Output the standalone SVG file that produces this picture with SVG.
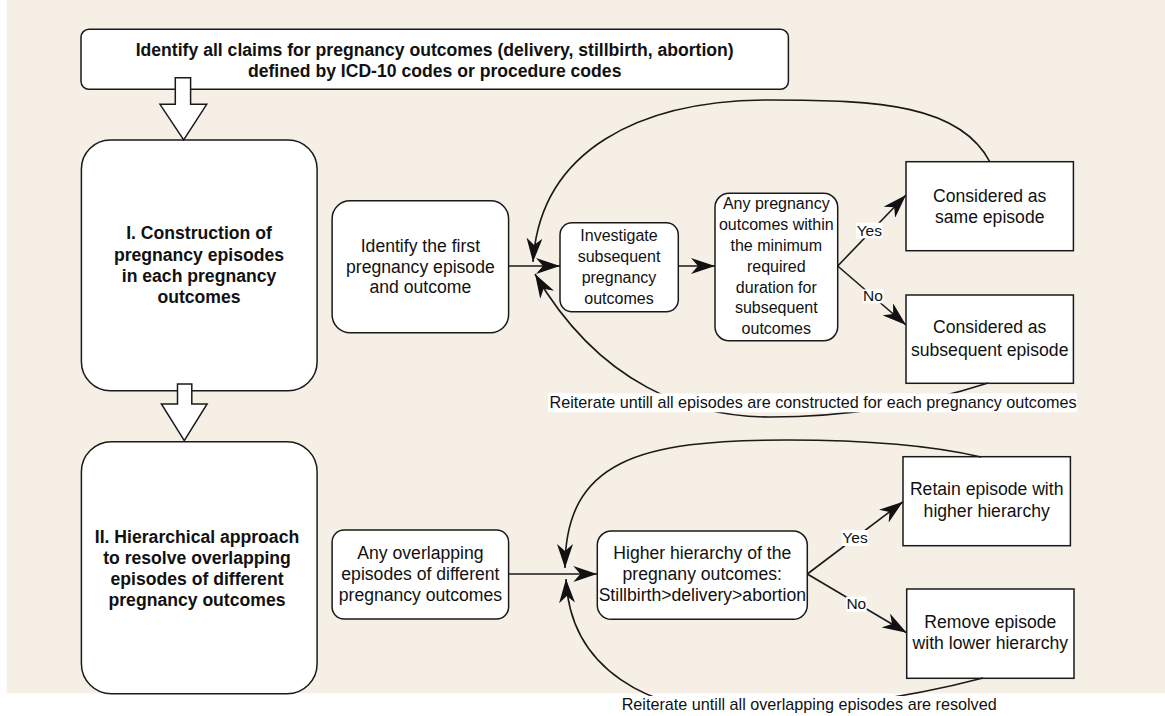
<svg xmlns="http://www.w3.org/2000/svg" width="1165" height="716" viewBox="0 0 1165 716">
<defs>
<style>
.box{fill:#fff;stroke:#1a1a1a;stroke-width:1.5}
.t{font-family:"Liberation Sans",Arial,sans-serif;font-size:17.6px;fill:#111;text-anchor:middle}
.b{font-weight:bold}
.s16{font-size:16px}
.s15{font-size:15.5px}
.conn{fill:none;stroke:#1a1a1a;stroke-width:1.6}
.hollow{fill:#fff;stroke:#1a1a1a;stroke-width:1.5;stroke-linejoin:miter}
.bg{fill:#fff}
</style>
<marker id="ah" viewBox="0 0 24 16" refX="24" refY="8" markerWidth="24" markerHeight="16" markerUnits="userSpaceOnUse" orient="auto">
<path d="M0,0 L24,8 L0,16 L7,8 Z" fill="#111"/>
</marker>
</defs>
<rect x="0" y="0" width="1165" height="716" fill="#fff"/>
<rect x="6.7" y="0" width="1158.3" height="693.3" fill="#f5efe5"/>

<g id="node-top">
<rect class="box" x="81" y="29.3" width="707.4" height="60" rx="8"/>
<text class="t b" x="434.7" y="56">Identify all claims for pregnancy outcomes (delivery, stillbirth, abortion)</text>
<text class="t b" x="434.7" y="77">defined by ICD-10 codes or procedure codes</text>
</g>
<g id="node-I">
<rect class="box" x="81.4" y="140" width="235.7" height="250.7" rx="29"/>
<text class="t b" x="199" y="239.3">I. Construction of</text>
<text class="t b" x="199" y="260.7">pregnancy episodes</text>
<text class="t b" x="199" y="282">in each pregnancy</text>
<text class="t b" x="199" y="303.3">outcomes</text>
</g>
<g id="node-II">
<rect class="box" x="81.4" y="441.7" width="235.7" height="252" rx="30"/>
<text class="t b" x="197" y="542.7">II. Hierarchical approach</text>
<text class="t b" x="197" y="564">to resolve overlapping</text>
<text class="t b" x="197" y="585">episodes of different</text>
<text class="t b" x="197" y="606">pregnancy outcomes</text>
</g>
<g id="node-identify-first">
<rect class="box" x="332.1" y="200.7" width="176.5" height="132" rx="18"/>
<text class="t" x="420.4" y="251.7">Identify the first</text>
<text class="t" x="420.4" y="272.7">pregnancy episode</text>
<text class="t" x="420.4" y="293.3">and outcome</text>
</g>
<g id="node-investigate">
<rect class="box" x="560" y="222.7" width="118.3" height="89" rx="12"/>
<text class="t s16" x="619" y="241">Investigate</text>
<text class="t s16" x="619" y="262">subsequent</text>
<text class="t s16" x="619" y="283">pregnancy</text>
<text class="t s16" x="619" y="304">outcomes</text>
</g>
<g id="node-decision-I">
<rect class="box" x="715" y="193.3" width="122.7" height="147.4" rx="14"/>
<text class="t s16" x="776.3" y="209.3">Any pregnancy</text>
<text class="t s16" x="776.3" y="230.1">outcomes within</text>
<text class="t s16" x="776.3" y="250.9">the minimum</text>
<text class="t s16" x="776.3" y="271.7">required</text>
<text class="t s16" x="776.3" y="292.5">duration for</text>
<text class="t s16" x="776.3" y="313.3">subsequent</text>
<text class="t s16" x="776.3" y="334.1">outcomes</text>
</g>
<g id="node-same">
<rect class="box" x="906" y="161.7" width="167.4" height="89"/>
<text class="t" x="989.7" y="201.7">Considered as</text>
<text class="t" x="989.7" y="223.3">same episode</text>
</g>
<g id="node-subsequent">
<rect class="box" x="906" y="295" width="167.4" height="88.3"/>
<text class="t" x="989.7" y="333.3">Considered as</text>
<text class="t" x="989.7" y="355.7">subsequent episode</text>
</g>
<g id="node-overlap">
<rect class="box" x="332.1" y="530" width="176.5" height="89" rx="12"/>
<text class="t" x="420.4" y="559.3">Any overlapping</text>
<text class="t" x="420.4" y="580">episodes of different</text>
<text class="t" x="420.4" y="600.7">pregnancy outcomes</text>
</g>
<g id="node-hierarchy">
<rect class="box" x="597.3" y="531" width="210" height="88.3" rx="14"/>
<text class="t" x="702.3" y="559">Higher hierarchy of the</text>
<text class="t" x="702.3" y="580">pregnany outcomes:</text>
<text class="t" x="702.3" y="601">Stillbirth&gt;delivery&gt;abortion</text>
</g>
<g id="node-retain">
<rect class="box" x="903" y="456.7" width="167.4" height="89"/>
<text class="t" x="986.7" y="495">Retain episode with</text>
<text class="t" x="986.7" y="516.7">higher hierarchy</text>
</g>
<g id="node-remove">
<rect class="box" x="906.7" y="589" width="167.3" height="89.3"/>
<text class="t" x="990.3" y="627.7">Remove episode</text>
<text class="t" x="990.3" y="649.3">with lower hierarchy</text>
</g>

<g id="connectors">
<path class="hollow" d="M175.3,77.7 H190.6 V104.3 H206.7 L183.7,140 L160,104.3 H175.3 Z"/>
<path class="hollow" d="M177.5,384 H191.8 V404 H207.1 L184.3,440.7 L161.4,404 H177.5 Z"/>
<line class="conn" x1="508.6" y1="266" x2="560" y2="266" marker-end="url(#ah)"/>
<line class="conn" x1="678.3" y1="266" x2="715" y2="266" marker-end="url(#ah)"/>
<line class="conn" x1="837.7" y1="266" x2="906" y2="195" marker-end="url(#ah)"/>
<line class="conn" x1="837.7" y1="266" x2="906" y2="325" marker-end="url(#ah)"/>
<path class="conn" d="M990,162 C960,105 880,100 770,100 C640,100 540,150 533,262" marker-end="url(#ah)"/>
<path class="conn" d="M988,383 C920,405 850,417 770,417 C690,417 600,385 535,274" marker-end="url(#ah)"/>
<line class="conn" x1="508.6" y1="574" x2="597.3" y2="574" marker-end="url(#ah)"/>
<line class="conn" x1="807.3" y1="574" x2="903" y2="501.7" marker-end="url(#ah)"/>
<line class="conn" x1="807.3" y1="574" x2="906.7" y2="632.7" marker-end="url(#ah)"/>
<path class="conn" d="M981,457 C930,445 870,440 787,440 C640,440 565,460 565,568" marker-end="url(#ah)"/>
<path class="conn" d="M983,678 C900,700 800,712 740,712 C650,712 570,670 566,579" marker-end="url(#ah)"/>
</g>

<g id="labels">
<rect class="bg" x="856" y="222.7" width="26.7" height="15.6"/>
<text class="t s15" x="869.3" y="235.5">Yes</text>
<rect class="bg" x="862.7" y="289.3" width="20.6" height="14"/>
<text class="t s15" x="873" y="301">No</text>
<rect class="bg" x="548" y="393.3" width="529" height="19"/>
<text class="t" style="font-size:16.2px;text-anchor:start" x="549.5" y="408" textLength="527" lengthAdjust="spacingAndGlyphs">Reiterate untill all episodes are constructed for each pregnancy outcomes</text>
<rect class="bg" x="841.7" y="530" width="26.6" height="16"/>
<text class="t s15" x="855" y="543">Yes</text>
<rect class="bg" x="846" y="596.7" width="20.7" height="15"/>
<text class="t s15" x="856.3" y="609">No</text>
<rect class="bg" x="615" y="696" width="387" height="20"/>
<text class="t" style="font-size:16.2px;text-anchor:start" x="621.7" y="710" textLength="375" lengthAdjust="spacingAndGlyphs">Reiterate untill all overlapping episodes are resolved</text>
</g>
</svg>
